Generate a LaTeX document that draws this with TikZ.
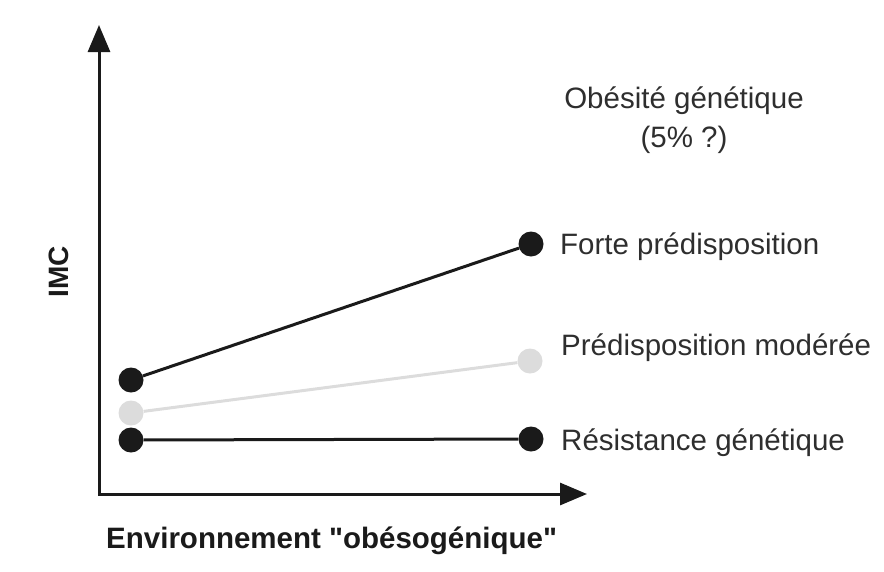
\documentclass[tikz,border=0pt]{standalone}
\usepackage{fontspec}
\setmainfont{Liberation Sans}
\usetikzlibrary{arrows.meta,positioning}
\definecolor{inkdark}{HTML}{1A1A1A}
\definecolor{textgrey}{HTML}{2E2E2E}
\definecolor{palegrey}{HTML}{DCDCDC}
\tikzset{
  bigdot/.style={circle,fill=inkdark,inner sep=0pt,minimum size=25pt},
  palebigdot/.style={bigdot,fill=palegrey},
  curve/.style={line width=3pt,draw=inkdark},
  lbl/.style={anchor=west,inner sep=0pt,text=textgrey,text height=21pt,text depth=0pt,
    font=\fontsize{29.5}{39}\selectfont},
  axislbl/.style={inner sep=0pt,text=inkdark,text height=21pt,text depth=0pt,
    font=\fontsize{29.5}{35}\selectfont\bfseries}
}

\begin{document}
\begin{tikzpicture}[x=1pt,y=-1pt]
    \useasboundingbox (0,0) rectangle (884,571);
    % axes
    \coordinate (origin) at (99,494);
    \coordinate (ytip) at (99,25);
    \coordinate (xtip) at (587,494);
    \draw[line width=3pt,draw=inkdark,{Triangle[length=27pt,width=22pt]}-{Triangle[length=27pt,width=22pt]}]
        (ytip) -- (origin) -- (xtip);
    \node[axislbl,rotate=90,font=\fontsize{28}{33}\selectfont\bfseries] (imc) at (58,272) {IMC};
    \node[axislbl,anchor=west] (env) at (106,538)
        {Environnement \textquotedbl obésogénique\textquotedbl};

    % three predisposition lines
    \node[bigdot] (fl) at (131,380) {};
    \node[bigdot] (fr) at (531,244) {};
    \node[palebigdot] (ml) at (131,413) {};
    \node[palebigdot] (mr) at (530,361) {};
    \node[bigdot] (rl) at (131,440) {};
    \node[bigdot] (rr) at (531,439) {};
    \draw[curve] (fl) -- (fr);
    \draw[curve,draw=palegrey] (ml) -- (mr);
    \draw[curve] (rl) -- (rr);

    % labels
    \node[lbl] (forte) at (560,244) {Forte prédisposition};
    \node[lbl] (moderee) at (561,345) {Prédisposition modérée};
    \node[lbl] (resist) at (561,440) {Résistance génétique};
    \node[lbl,anchor=center,align=center,text height=,text depth=] (obes) at (684,120)
        {Obésité génétique\\(5\% ?)};
\end{tikzpicture}
\end{document}
